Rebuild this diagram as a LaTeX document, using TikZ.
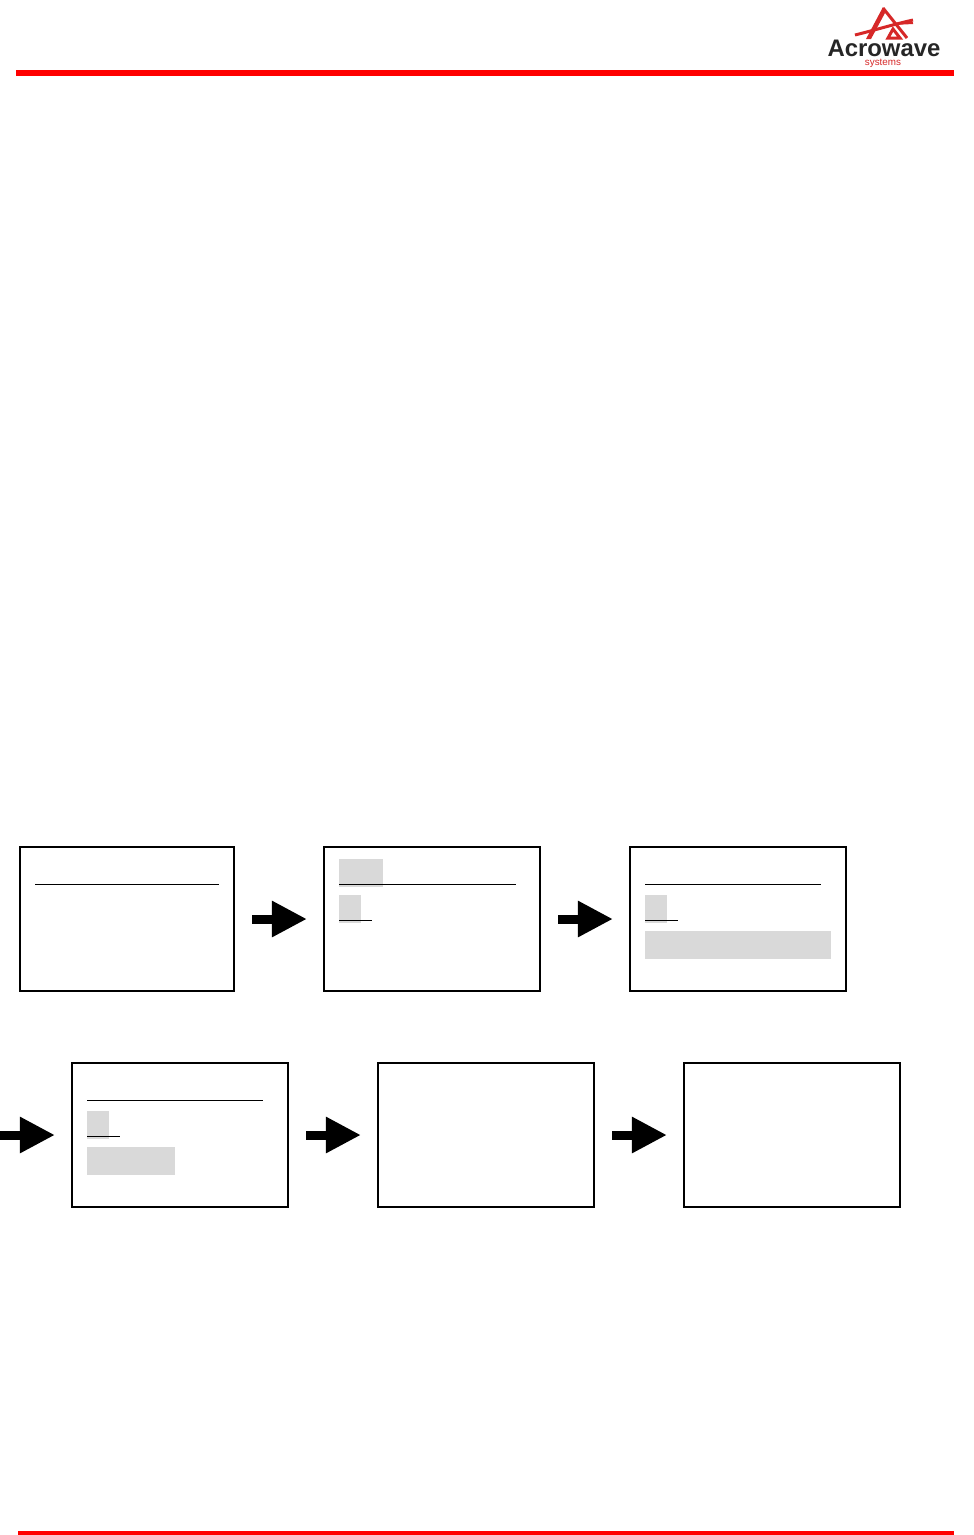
\documentclass[tikz,border=0pt]{standalone}
\usepackage{fontspec}
\setmainfont{Liberation Sans}
\usetikzlibrary{arrows.meta}
\definecolor{rulered}{HTML}{FF0000}
\definecolor{logored}{HTML}{D62828}
\definecolor{shade}{HTML}{D9D9D9}

\begin{document}
\begin{tikzpicture}[
  x=0.01cm, y=-0.01cm,
  framebox/.style={
    draw=black, line width=0.02cm, fill=none, inner sep=0pt,
    minimum height=1.44cm
  },
  narrowbox/.style={framebox, minimum width=2.14cm},
  widebox/.style={framebox, minimum width=2.16cm},
  fatarr/.style={
    -{Triangle[length=0.35cm, width=0.34cm]}, line width=0.09cm, black,
    shorten <=0.17cm, shorten >=0.16cm
  },
  rulebar/.style={rulered, fill=rulered},
  inkrule/.style={black, line width=0.009cm},
  shadebar/.style={fill=shade},
  logoleg/.style={logored, line width=0.03cm},
]
\useasboundingbox (0,0) rectangle (974,1535);

% header and footer
\fill[rulebar] (16,70) rectangle (954,75.5);
\fill[rulebar] (18,1531) rectangle (954,1534.5);

% logo
\fill[logored] (883,7) -- (866,39) -- (871,39) -- (885,13) -- cycle;
\draw[logoleg] (883,8) -- (907,38);
\draw[logoleg] (893,29) -- (900,38) -- (888,38) -- cycle;
\draw[logoleg] (855,35) .. controls (875,30) and (895,24) .. (913,20);
\draw[logoleg, line width=0.02cm] (893,24) -- (913,23);
\node[font=\bfseries\fontsize{6.8}{7}\selectfont, text=black!85, inner sep=0pt]
  (logoname) at (884,48.5) {Acrowave};
\node[font=\fontsize{2.8}{3}\selectfont, text=logored, inner sep=0pt]
  (logosub) at (883,63) {systems};

% boxes
\node[narrowbox] (frame1) at (127,919) {};
\node[widebox]   (frame2) at (432,919) {};
\node[widebox]   (frame3) at (738,919) {};
\node[widebox]   (frame4) at (180,1135) {};
\node[widebox]   (frame5) at (486,1135) {};
\node[widebox]   (frame6) at (792,1135) {};

% shaded fields
\fill[shadebar] (339,859) rectangle (383,887);
\foreach \xa in {339,645} {
  \fill[shadebar] (\xa,895) rectangle ++(22,28);
}
\fill[shadebar] (645,931) rectangle (831,959);
\fill[shadebar] (87,1111) rectangle (109,1139);
\fill[shadebar] (87,1147) rectangle (175,1175);

% rules
\draw[inkrule] (35,884) -- (219,884);
\draw[inkrule] (339,884) -- (516,884);
\draw[inkrule] (339,920) -- (372,920);
\draw[inkrule] (645,884) -- (821,884);
\draw[inkrule] (645,920) -- (678,920);
\draw[inkrule] (87,1100) -- (263,1100);
\draw[inkrule] (87,1136) -- (120,1136);

% arrows
\coordinate (offpage) at (-17,1135);
\draw[fatarr] (frame1) -- (frame2);
\draw[fatarr] (frame2) -- (frame3);
\draw[fatarr] (offpage) -- (frame4);
\draw[fatarr] (frame4) -- (frame5);
\draw[fatarr] (frame5) -- (frame6);
\end{tikzpicture}
\end{document}
